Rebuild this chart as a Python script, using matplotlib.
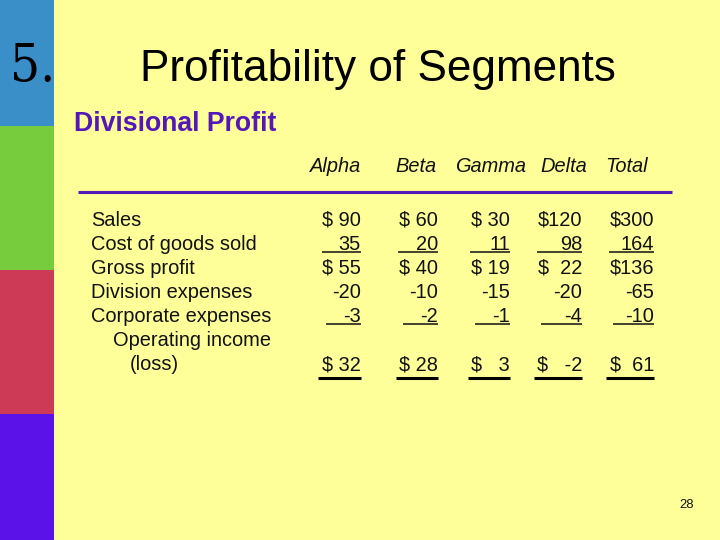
import matplotlib
matplotlib.use("Agg")
import matplotlib.pyplot as plt
from matplotlib.patches import Rectangle

plt.rcParams['font.family'] = ['Liberation Sans', 'DejaVu Sans']

row_labels = ["Sales", "Cost of goods sold", "Gross profit", "Division expenses",
              "Corporate expenses"]
last_label = ["Operating income", "(loss)"]
columns = ["Alpha", "Beta", "Gamma", "Delta", "Total"]
alpha = ["$ 90", "35", "$ 55", "-20", "-3", "$ 32"]
beta = ["$ 60", "20", "$ 40", "-10", "-2", "$ 28"]
gamma = ["$ 30", "11", "$ 19", "-15", "-1", "$   3"]
delta = ["$120", "98", "$  22", "-20", "-4", "$   -2"]
total = ["$300", "164", "$136", "-65", "-10", "$  61"]
divisions = [alpha, beta, gamma, delta, total]

# layout (pixels)
col_right = [361, 438, 510, 582, 654]
header_x = [336, 416, 491, 564, 627]
row_y = [220, 244, 268, 292, 316, 365]
rule_left_1 = [322, 398, 470, 537, 609]
rule_left_4 = [326, 403, 475, 541, 613]
rule_left_5 = [318, 396, 468, 534, 606]
bands = [("#3B8FC8", 0, 126), ("#76CC3C", 126, 270), ("#CC3A56", 270, 414), ("#5A12E8", 414, 540)]

fig = plt.figure(figsize=(7.2, 5.4), dpi=100, facecolor="#FFFF99")
ax = fig.add_axes([0, 0, 1, 1])
ax.set_xlim(0, 720)
ax.set_ylim(540, 0)
ax.axis("off")

for color, y0, y1 in bands:
    ax.add_patch(Rectangle((0, y0), 54, y1 - y0, color=color, lw=0))

ax.text(33, 67, "5.", fontsize=38, family="DejaVu Serif", color="black", ha="center",
        va="center", stretch="condensed")
ax.text(378, 69, "Profitability of Segments", fontsize=31.8, ha="center", va="center", color="black")
ax.text(74, 124, "Divisional Profit", fontsize=19.2, weight="bold", ha="left", va="center", color="#5518B8")

for x, name in zip(header_x, columns):
    ax.text(x, 166, name, fontsize=14.4, style="italic", ha="center", va="center", color="#111111")
ax.plot([78, 672], [192, 192], color="#5518B8", lw=2.2, solid_capstyle="butt")

for y, label in zip(row_y, row_labels):
    ax.text(91, y, label, fontsize=14.4, ha="left", va="center", color="#111111")
ax.text(113, 340, last_label[0], fontsize=14.4, ha="left", va="center", color="#111111")
ax.text(130, 364, last_label[1], fontsize=14.4, ha="left", va="center", color="#111111")

for i, vals in enumerate(divisions):
    for y, v in zip(row_y, vals):
        ax.text(col_right[i], y, v, fontsize=14.4, ha="right", va="center", color="#111111")
    ax.plot([rule_left_1[i], col_right[i]], [252, 252], color="#111111", lw=1.1, solid_capstyle="butt")
    ax.plot([rule_left_4[i], col_right[i]], [324, 324], color="#111111", lw=1.1, solid_capstyle="butt")
    ax.plot([rule_left_5[i], col_right[i]], [377.5, 377.5], color="black", lw=2.2, solid_capstyle="butt")

ax.text(694, 505, "28", fontsize=9.4, ha="right", va="center", color="#111111")

fig.savefig("out.png", dpi=100, facecolor=fig.get_facecolor())
